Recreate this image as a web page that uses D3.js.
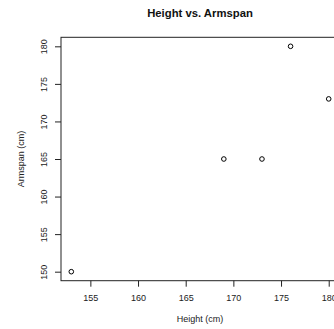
<!DOCTYPE html>
<html>
<head>
<meta charset="utf-8">
<script src="https://cdn.jsdelivr.net/npm/d3@7"></script>
<style>
  html, body { margin: 0; padding: 0; background: #fff; }
  svg { display: block; font-family: "Liberation Sans", Arial, Helvetica, sans-serif; }
</style>
</head>
<body>
<svg id="chart" width="334" height="329"></svg>
<script>
// Measurements
const heights = [153, 169, 173, 176, 180];
const armspans = [150, 165, 165, 180, 173];
const xTicks = [155, 160, 165, 170, 175, 180];
const yTicks = [150, 155, 160, 165, 170, 175, 180];

const svg = d3.select("#chart");

// plot region (extends past the right edge of the canvas)
const plotL = 61, plotR = 339, plotT = 37.3, plotB = 280.7;

// axis ranges padded by 4% like a base scatter plot
function padded(vals) {
  const [lo, hi] = d3.extent(vals);
  const p = (hi - lo) * 0.04;
  return [lo - p, hi + p];
}
const x = d3.scaleLinear().domain(padded(heights)).range([plotL, plotR]);
const y = d3.scaleLinear().domain(padded(armspans)).range([plotB, plotT]);

// frame
svg.append("rect")
  .attr("x", plotL).attr("y", plotT)
  .attr("width", plotR - plotL).attr("height", plotB - plotT)
  .attr("fill", "none").attr("stroke", "#222").attr("stroke-width", 1);

// x axis
const xAxis = svg.append("g")
  .attr("transform", `translate(0,${plotB})`)
  .call(d3.axisBottom(x).tickValues(xTicks).tickSize(6).tickPadding(8).tickFormat(d3.format("d")));
xAxis.select(".domain").remove();
xAxis.selectAll("line").attr("stroke", "#222");
xAxis.selectAll("text").attr("font-size", 9).attr("fill", "#222")
  .attr("font-family", "Liberation Sans, Arial, sans-serif");

// y axis, labels rotated parallel to the axis
const yAxis = svg.append("g")
  .attr("transform", `translate(${plotL},0)`)
  .call(d3.axisLeft(y).tickValues(yTicks).tickSize(6).tickFormat(d3.format("d")));
yAxis.select(".domain").remove();
yAxis.selectAll("line").attr("stroke", "#222");
yAxis.selectAll("text")
  .attr("font-size", 9).attr("fill", "#222")
  .attr("font-family", "Liberation Sans, Arial, sans-serif")
  .attr("x", null).attr("dy", null)
  .attr("text-anchor", "middle")
  .attr("transform", "translate(-14.5,0) rotate(-90)");

// points
svg.append("g").selectAll("circle")
  .data(heights.map((h, i) => ({ h, a: armspans[i] })))
  .join("circle")
  .attr("cx", d => x(d.h))
  .attr("cy", d => y(d.a))
  .attr("r", 2.3)
  .attr("fill", "none")
  .attr("stroke", "#000")
  .attr("stroke-width", 1);

// titles
const cx = (plotL + plotR) / 2;
svg.append("text")
  .attr("x", cx).attr("y", 17)
  .attr("text-anchor", "middle")
  .attr("font-size", 11.3).attr("font-weight", "bold").attr("fill", "#111")
  .text("Height vs. Armspan");

svg.append("text")
  .attr("x", cx).attr("y", 322)
  .attr("text-anchor", "middle")
  .attr("font-size", 9).attr("fill", "#222")
  .text("Height (cm)");

svg.append("text")
  .attr("transform", `translate(24,${(plotT + plotB) / 2}) rotate(-90)`)
  .attr("text-anchor", "middle")
  .attr("font-size", 9).attr("fill", "#222")
  .text("Armspan (cm)");
</script>
</body>
</html>
